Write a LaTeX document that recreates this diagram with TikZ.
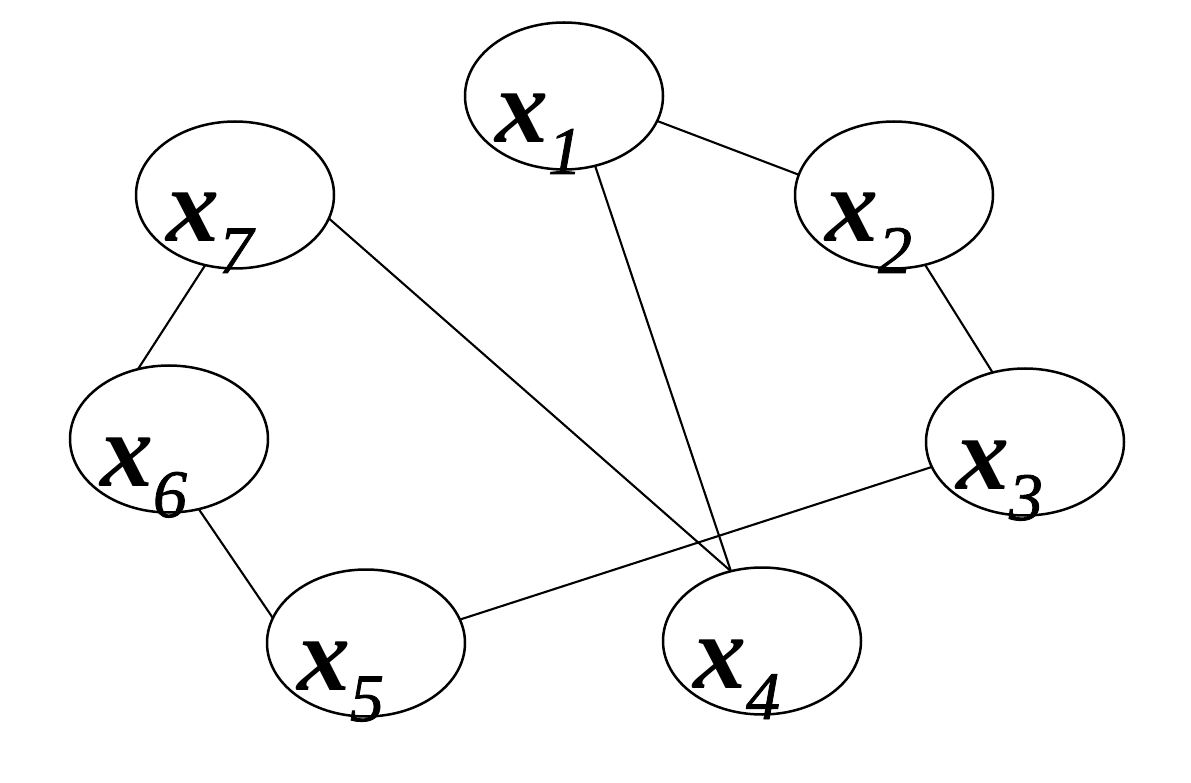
\documentclass[tikz,border=0pt]{standalone}
\usepackage{fontspec}
\setmainfont{Liberation Serif}
\newfontfamily\labdig{Liberation Serif}[ItalicFeatures={FakeBold=1.2}]
\usetikzlibrary{shapes.geometric}
\newcommand{\varlab}[1]{\rlap{\hspace*{-69pt}\smash{\raisebox{-47pt}{{\fontsize{106}{106}\selectfont\bfseries\itshape x}\raisebox{-31pt}{\fontsize{68}{68}\selectfont\labdig\itshape #1}}}}}
\tikzset{
  var/.style={ellipse, draw, line width=2.5pt, minimum width=198pt, minimum height=147pt, inner sep=0pt, outer sep=0pt},
  edge/.style={line width=2.1pt},
}
\begin{document}
\begin{tikzpicture}[x=1pt,y=-1pt]
\useasboundingbox (0,0) rectangle (1191,783);
\foreach \n/\px/\py in {1/564/96, 2/894/195, 3/1025/442, 4/762/641, 5/366/643, 6/169/439, 7/235/195}{
  \node[var] (x\n) at (\px,\py) {\varlab{\n}};
}
\draw[edge] (x1.-15) -- (x2.168);
\draw[edge] (x2.-66) -- (x3.115);
\draw[edge] (x7.-113) -- (x6.114);
\draw[edge] (x6.-67) -- (x5.165);
\draw[edge] (x5.14) -- (x3.195);
\draw[edge] (x7.-14) -- (x4.114);
\draw[edge] (x1.-66) -- (x4.114);
\end{tikzpicture}
\end{document}
